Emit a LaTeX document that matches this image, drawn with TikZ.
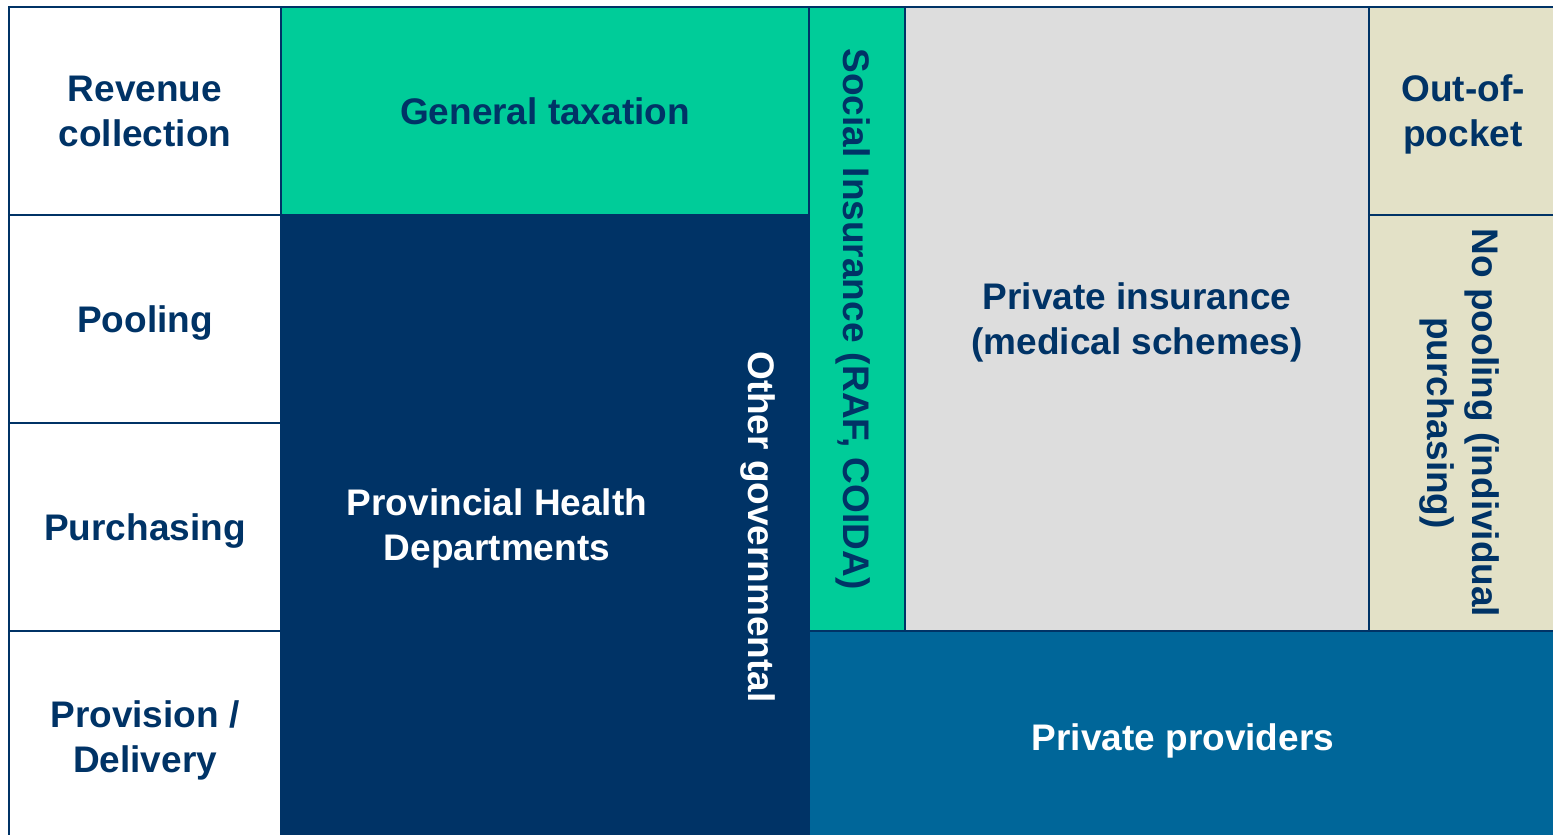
\documentclass[tikz,border=0pt]{standalone}
\usepackage{fontspec}
\setmainfont{Liberation Sans}
\usetikzlibrary{positioning}
\definecolor{navy}{HTML}{003366}
\definecolor{taxgreen}{HTML}{00CC99}
\definecolor{schemegrey}{HTML}{DDDDDD}
\definecolor{pocketbeige}{HTML}{E3E1C7}
\definecolor{providerblue}{HTML}{006699}

\begin{document}
\begin{tikzpicture}[x=1pt,y=-1pt]
	\tikzset{
	    cell/.style={draw=navy, line width=1.5pt, inner sep=0pt, outer sep=0pt, text depth=0pt,
	        align=center, text=navy, font=\bfseries\fontsize{37}{45}\selectfont},
	    span/.style args={#1 and #2}{
	         minimum width=#1pt, minimum height=#2pt
	    },
	    label/.style={inner sep=0pt, align=center, font=\bfseries\fontsize{37}{45}\selectfont}
	}
	\useasboundingbox (0,0) rectangle (1553,835);

	% public side
	\node[cell, fill=navy, span=528 and 630] (phd) at (545,530) {};
	\node[label, text=white] (phdtext) at (497,528) {Provincial Health\\Departments};
	\node[label, text=white, rotate=-90] (othergov) at (758,527) {Other governmental};
	\node[cell, fill=taxgreen, span=528 and 208] (tax) at (545,111) {General taxation};

	% function column
	\node[cell, fill=white, span=272 and 208] (revenue) at (145,111) {Revenue\\collection};
	\node[cell, fill=white, span=272 and 208, below=0pt of revenue] (pooling) {Pooling};
	\node[cell, fill=white, span=272 and 208, below=0pt of pooling] (purchasing) {Purchasing};
	\node[cell, fill=white, span=272 and 212, below=0pt of purchasing] (provision) {Provision /\\Delivery};

	% insurance and private side
	\node[cell, fill=taxgreen, rotate=-90, span=624 and 96] (social) at (857,319) {Social Insurance (RAF, COIDA)};
	\node[cell, fill=schemegrey, span=464 and 624] (scheme) at (1137,319) {Private insurance\\(medical schemes)};
	\node[cell, fill=pocketbeige, span=188 and 208] (pocket) at (1463,111) {Out-of-\\pocket};
	\node[cell, fill=pocketbeige, rotate=-90, span=416 and 188, below=0pt of pocket, anchor=west] (nopool) {No pooling (individual\\purchasing)};
	\node[cell, fill=providerblue, text=white, span=748 and 212] (providers) at (1183,737) {Private providers};
\end{tikzpicture}
\end{document}
